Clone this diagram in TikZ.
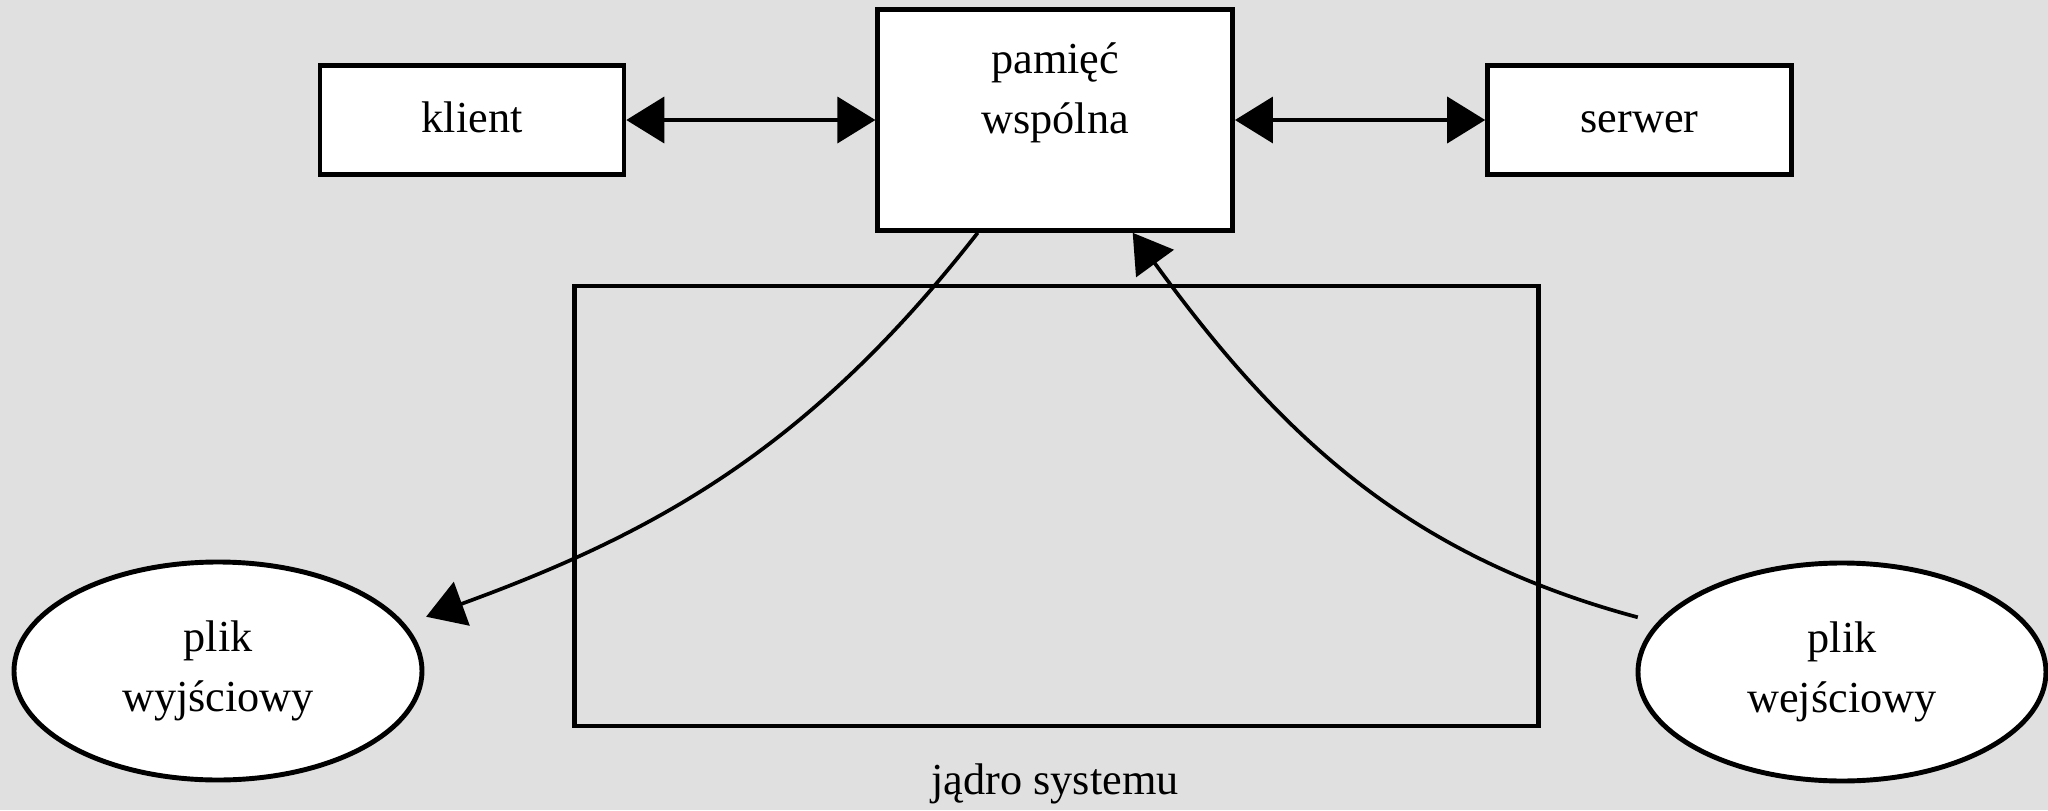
\documentclass[tikz,border=0pt]{standalone}
\usepackage{fontspec}
\setmainfont{Liberation Serif}
\usetikzlibrary{arrows.meta, shapes.geometric, positioning}
\definecolor{marble}{RGB}{224,224,224}

\begin{document}
\begin{tikzpicture}[
    font=\fontsize{12.6}{17}\selectfont, >={Triangle[length=0.38cm, width=0.46cm]},
    proc_box/.style ={draw, fill=white, line width=1.3pt, minimum width=3.04cm, minimum height=1.09cm, text height=2ex, text depth=0.42ex},
    mem_box/.style  ={draw, fill=white, line width=1.3pt, minimum width=3.55cm, minimum height=2.21cm},
    file_oval/.style={ellipse, draw, fill=white, line width=1.4pt, minimum width=4.08cm, minimum height=2.18cm, align=center, inner sep=0pt},
    link/.style     ={line width=1.05pt}
]

% Background
\fill[marble] (0,0) rectangle (20.48,8.10);
\useasboundingbox (0,0) rectangle (20.48,8.10);

% Kernel
\node[draw, line width=1.2pt, minimum width=9.64cm, minimum height=4.40cm] (kernel) at (10.565,3.04) {};
\node (kernel_lbl) at (10.55,0.26) {jądro systemu};

% Top row
\node[mem_box] (mem) at (10.552,6.90) {};
\node[align=center] (mem_txt) at ([yshift=0.27cm]mem.center) {pamięć\\wspólna};
\node[proc_box] (client) at (4.72,6.90) {klient};
\node[proc_box] (server) at (16.395,6.90) {serwer};

\draw[link, <->] (client.east) -- (mem.west);
\draw[link, <->] (mem.east) -- (server.west);

% Files
\node[file_oval] (out_file) at (2.18,1.39) {plik\\wyjściowy};
\node[file_oval] (in_file) at (18.42,1.38) {plik\\wejściowy};

% Data flow
\draw[link, ->, shorten >=0.22cm] ([xshift=-0.775cm]mem.south) to[out=-128, in=20] (out_file.14);
\draw[link, ->, shorten <=0.2cm] (in_file.165) to[out=165, in=-54] ([xshift=0.775cm]mem.south);

\end{tikzpicture}
\end{document}
